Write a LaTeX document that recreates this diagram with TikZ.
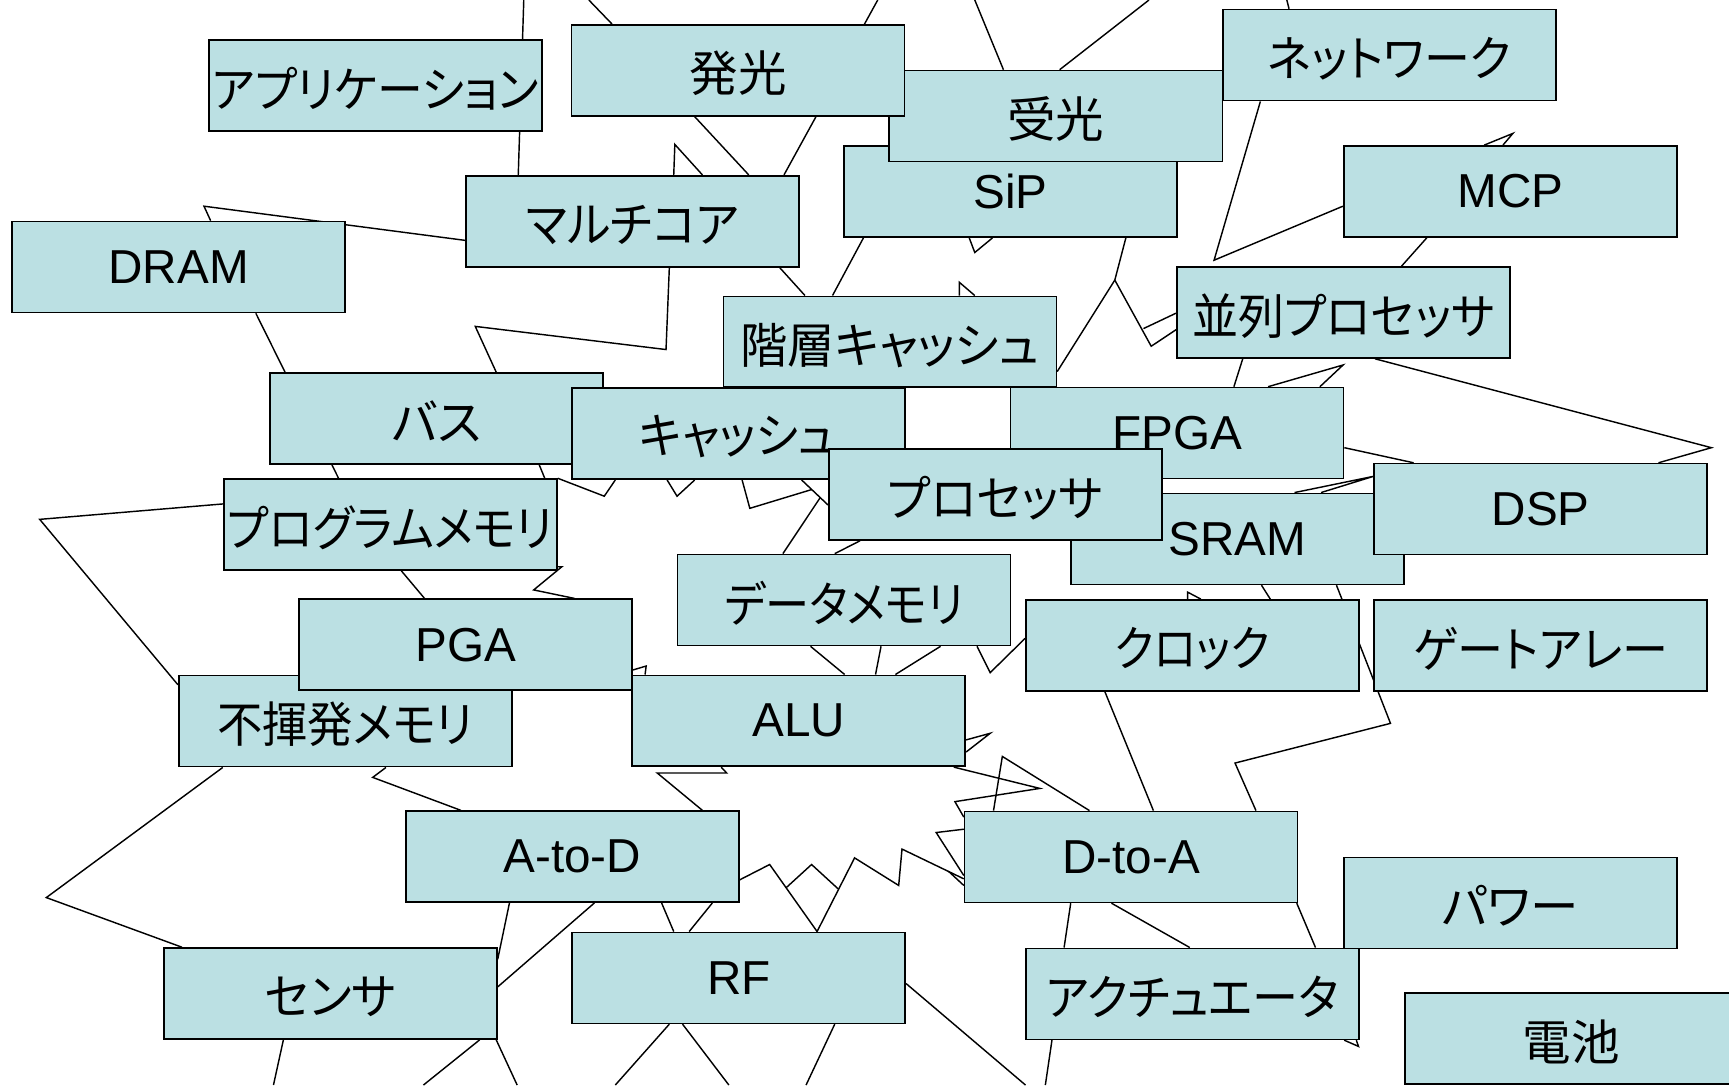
\documentclass[tikz,border=0pt]{standalone}
\usepackage{graphicx}
\usepackage{fontspec}
\setmainfont{Liberation Sans}
\newfontfamily\jpfont[RawFeature=+palt]{Noto Sans CJK JP}
\usetikzlibrary{backgrounds}
\definecolor{boxfill}{RGB}{187,224,227}
\newcommand{\hsq}[2]{\raisebox{-1.5pt}[\height][\depth]{\scalebox{#1}[1]{#2}}}
\tikzset{
  box/.style={draw=black, line width=0.75pt, fill=boxfill, minimum width=151pt,
    minimum height=41.25pt, inner sep=0pt, anchor=center,
    font={\fontsize{21.6pt}{25pt}\selectfont}},
  jbox/.style={box, font={\jpfont\fontsize{22pt}{26pt}\selectfont}},
  wire/.style={draw=black, line width=0.65pt, line join=miter}
}
\begin{document}
\begin{tikzpicture}[x=0.5pt, y=-0.5pt]
\useasboundingbox (0,0) rectangle (1568,984);

% free ends at the picture edges
\coordinate (e1) at (475,0);
\coordinate (e2) at (534,0);
\coordinate (e3) at (796,0);
\coordinate (e4) at (884,0);
\coordinate (e5) at (1042,0);
\coordinate (e6) at (1167,0);
\coordinate (e7) at (558,984);
\coordinate (e8) at (661,984);
\coordinate (e9) at (731,984);
\coordinate (e10) at (930,984);
\coordinate (e11) at (948,984);
\coordinate (e12) at (248,984);
\coordinate (e13) at (384,984);
\coordinate (e14) at (469,984);

% boxes, in stacking order
\node[box]  (sip)    at (916.3,173.8) {SiP};
\node[jbox] (jk)     at (957.5,105.2) {\hsq{1}{受光}};
\node[jbox] (hk)     at (669.3,63.8)  {\hsq{1}{発光}};
\node[jbox] (app)    at (340.5,77.5)  {\hsq{0.945}{アプリケーション}};
\node[jbox] (net)    at (1260,50)     {\hsq{0.948}{ネットワーク}};
\node[box]  (mcp)    at (1369.6,173.6) {MCP};
\node[jbox] (mc)     at (573.7,200.6) {\hsq{0.95}{マルチコア}};
\node[box]  (dram)   at (162,242.1)   {DRAM};
\node[jbox] (kc)     at (807,310)     {\hsq{0.975}{階層キャッシュ}};
\node[jbox] (para)   at (1218.3,283.4) {\hsq{0.948}{並列プロセッサ}};
\node[jbox] (bus)    at (395.7,379.5) {\hsq{1}{バス}};
\node[jbox] (cache)  at (669.5,393.3) {\hsq{0.946}{キャッシュ}};
\node[box]  (fpga)   at (1067.4,392.7) {FPGA};
\node[box]  (sram)   at (1122,488.7)  {SRAM};
\node[box]  (dsp)    at (1397.3,461.7) {DSP};
\node[jbox] (proc)   at (902.7,448.4) {\hsq{0.97}{プロセッサ}};
\node[jbox] (pmem)   at (354,475.7)   {\hsq{0.93}{プログラムメモリ}};
\node[jbox] (dmem)   at (765.5,544.1) {\hsq{0.91}{データメモリ}};
\node[jbox] (nvm)    at (313.1,654)   {\hsq{0.935}{不揮発メモリ}};
\node[box]  (pga)    at (422.3,584.7) {PGA};
\node[jbox] (clk)    at (1081.3,585.3) {\hsq{0.9}{クロック}};
\node[jbox] (ga)     at (1397.3,585.3) {\hsq{0.95}{ゲートアレー}};
\node[box]  (alu)    at (724.4,653.7) {ALU};
\node[box]  (ad)     at (518.9,776.9) {A-to-D};
\node[box]  (da)     at (1025.8,777.1) {D-to-A};
\node[jbox] (pow)    at (1369.6,818.8) {\hsq{1}{パワー}};
\node[jbox] (sensor) at (299.6,901)   {\hsq{0.97}{センサ}};
\node[box]  (rf)     at (670,886.8)   {RF};
\node[jbox] (act)    at (1081.3,901.3) {\hsq{0.95}{アクチュエータ}};
\node[jbox] (bat)    at (1425,941.6)  {\hsq{1}{電池}};

\begin{pgfonlayer}{background}
\fill[white] (0,0) rectangle (1568,984);
\draw[wire] (e1) -- (470,0 |- mc.north);
\draw[wire] (e2) -- (555,0 |- hk.north);
\draw[wire] (e3) -- (784,0 |- hk.north);
\draw[wire] (e4) -- (910,0 |- jk.north);
\draw[wire] (e5) -- (961,0 |- jk.north);
\draw[wire] (e6) -- (1169,0 |- net.north);
\draw[wire] (630,0 |- hk.south) -- (679,0 |- mc.north);
\draw[wire] (740,0 |- hk.south) -- (711,0 |- mc.north);
\draw[wire] (611,0 |- mc.north) -- (612,131) -- (637,0 |- mc.north);
\draw[wire] (mc.west |- 0,218) -- (185,187) -- (191,0 |- dram.north);
\draw[wire] (607,0 |- mc.south) -- (604,317) -- (431,296) -- (450,0 |- bus.north);
\draw[wire] (232,0 |- dram.south) -- (258.5,0 |- bus.north);
\draw[wire] (707,0 |- mc.south) -- (730,0 |- kc.north);
\draw[wire] (783,0 |- sip.south) -- (755,0 |- kc.north);
\draw[wire] (879,0 |- sip.south) -- (884,229) -- (900,0 |- sip.south);
\draw[wire] (870,0 |- kc.north) -- (870,256) -- (884,0 |- kc.north);
\draw[wire] (1021,0 |- sip.south) -- (1011,254) -- (kc.east |- 0,337);
\draw[wire] (1011,254) -- (1044,314) -- (para.west |- 0,299);
\draw[wire] (1037,298) -- (para.west |- 0,284);
\draw[wire] (1143,0 |- net.south) -- (1101,236) -- (mcp.west |- 0,187);
\draw[wire] (1346,0 |- mcp.north) -- (1372,121) -- (1363,0 |- mcp.north);
\draw[wire] (1294,0 |- mcp.south) -- (1271,0 |- para.north);
\draw[wire] (1127,0 |- para.south) -- (1119,0 |- fpga.north);
\draw[wire] (1150,0 |- fpga.north) -- (1218,331) -- (1197,0 |- fpga.north);
\draw[wire] (1247,0 |- para.south) -- (1552,406) -- (1504,0 |- dsp.north);
\draw[wire] (fpga.east |- 0,406) -- (1282,0 |- dsp.north);
\draw[wire] (1174,0 |- sram.north) -- (dsp.west |- 0,432) -- (1198,0 |- sram.north);
\draw[wire] (1144,0 |- sram.south) -- (1152,0 |- clk.north);
\draw[wire] (1212,0 |- sram.south) -- (1261,656) -- (1120,692) -- (1139,0 |- da.north);
\draw[wire] (1077,0 |- clk.north) -- (1077,537) -- (1089,0 |- clk.north);
\draw[wire] (1002,0 |- clk.south) -- (1046,0 |- da.north);
\draw[wire] (301,0 |- bus.south) -- (307,0 |- pmem.north);
\draw[wire] (489,0 |- bus.south) -- (494,0 |- pmem.north);
\draw[wire] (pmem.north east) -- (548,450) -- (558,0 |- cache.south);
\draw[wire] (605,0 |- cache.south) -- (614,450) -- (630,0 |- cache.south);
\draw[wire] (673,0 |- cache.south) -- (680,461) -- (736,444);
\draw[wire] (727,0 |- cache.south) -- (proc.west |- 0,458);
\draw[wire] (744,451) -- (710,0 |- dmem.north);
\draw[wire] (780,0 |- proc.south) -- (757,0 |- dmem.north);
\draw[wire] (735,0 |- dmem.south) -- (766,0 |- alu.north);
\draw[wire] (799,0 |- dmem.south) -- (794,0 |- alu.north);
\draw[wire] (853,0 |- dmem.south) -- (812,0 |- alu.north);
\draw[wire] (886,0 |- dmem.south) -- (898,610) -- (clk.west |- 0,579);
\draw[wire] (pmem.west |- 0,457) -- (36,471) -- (nvm.west |- 0,621);
\draw[wire] (364,0 |- pmem.south) -- (385,0 |- pga.north);
\draw[wire] (pmem.east |- 0,514) -- (509.5,514) -- (484,535) -- (521,0 |- pga.north);
\draw[wire] (alu.west |- 0,608) -- (586,604) -- (585,0 |- alu.north);
\draw[wire] (202,0 |- nvm.south) -- (42,814) -- (165,0 |- sensor.north);
\draw[wire] (350,0 |- nvm.south) -- (338,705) -- (418,0 |- ad.north);
\draw[wire] (654,0 |- alu.south) -- (659,701) -- (596,701) -- (637,0 |- ad.north);
\draw[wire] (alu.east |- 0,671) -- (898,665) -- (alu.east |- 0,682);
\draw[wire] (865,0 |- alu.south) -- (943,715) -- (866,727) -- (da.west |- 0,741);
\draw[wire] (901,0 |- da.north) -- (909,686) -- (988,0 |- da.north);
\draw[wire] (da.west |- 0,752) -- (849,755) -- (da.west |- 0,794);
\draw[wire] (860,790) -- (da.west |- 0,803);
\draw[wire] (ad.east |- 0,798) -- (698,784) -- (741,0 |- rf.north);
\draw[wire] (713,805) -- (736,784) -- (760,806);
\draw[wire] (741,0 |- rf.north) -- (775,778) -- (815,803) -- (818,770) -- (da.west |- 0,797);
\draw[wire] (539,0 |- ad.south) -- (sensor.east |- 0,895);
\draw[wire] (462,0 |- ad.south) -- (sensor.east |- 0,870);
\draw[wire] (600,0 |- ad.south) -- (611,0 |- rf.north);
\draw[wire] (646,0 |- ad.south) -- (625,0 |- rf.north);
\draw[wire] (607,0 |- rf.south) -- (e7);
\draw[wire] (619,0 |- rf.south) -- (e8);
\draw[wire] (757,0 |- rf.south) -- (e9);
\draw[wire] (rf.east |- 0,892) -- (e10);
\draw[wire] (954,0 |- act.south) -- (e11);
\draw[wire] (971,0 |- da.south) -- (965,0 |- act.north);
\draw[wire] (1008,0 |- da.south) -- (1079,0 |- act.north);
\draw[wire] (1176,0 |- da.south) -- (1193,0 |- act.north);
\draw[wire] (1219,0 |- act.south) -- (1232,949) -- (1230,0 |- act.south);
\draw[wire] (257,0 |- sensor.south) -- (e12);
\draw[wire] (435,0 |- sensor.south) -- (e13);
\draw[wire] (450,0 |- sensor.south) -- (e14);
\end{pgfonlayer}
\end{tikzpicture}
\end{document}
